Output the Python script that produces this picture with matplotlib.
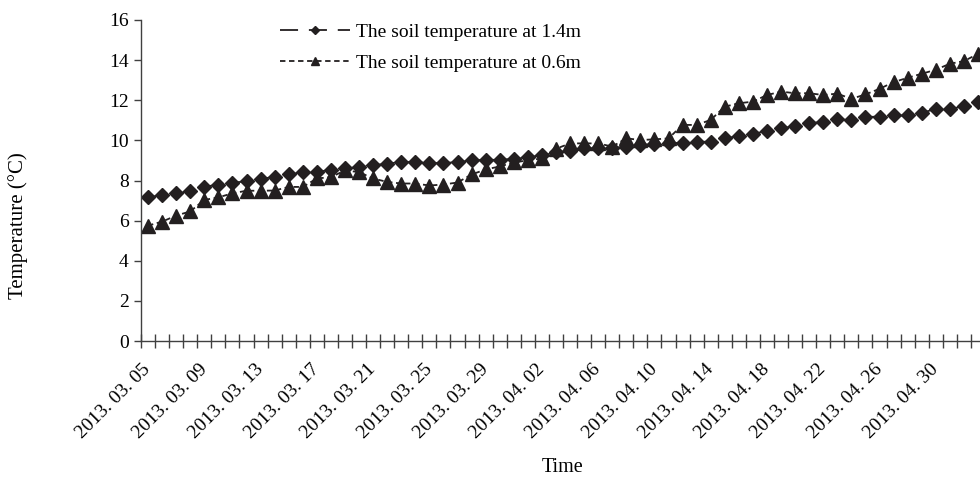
import matplotlib
matplotlib.use('Agg')
import matplotlib.pyplot as plt
from matplotlib.ticker import FixedLocator, NullFormatter
from matplotlib.transforms import ScaledTranslation

plt.rcParams['font.family'] = ['Liberation Serif', 'DejaVu Serif']

dates = [
    '2013. 03. 05', '2013. 03. 06', '2013. 03. 07', '2013. 03. 08', '2013. 03. 09',
    '2013. 03. 10', '2013. 03. 11', '2013. 03. 12', '2013. 03. 13', '2013. 03. 14',
    '2013. 03. 15', '2013. 03. 16', '2013. 03. 17', '2013. 03. 18', '2013. 03. 19',
    '2013. 03. 20', '2013. 03. 21', '2013. 03. 22', '2013. 03. 23', '2013. 03. 24',
    '2013. 03. 25', '2013. 03. 26', '2013. 03. 27', '2013. 03. 28', '2013. 03. 29',
    '2013. 03. 30', '2013. 03. 31', '2013. 04. 01', '2013. 04. 02', '2013. 04. 03',
    '2013. 04. 04', '2013. 04. 05', '2013. 04. 06', '2013. 04. 07', '2013. 04. 08',
    '2013. 04. 09', '2013. 04. 10', '2013. 04. 11', '2013. 04. 12', '2013. 04. 13',
    '2013. 04. 14', '2013. 04. 15', '2013. 04. 16', '2013. 04. 17', '2013. 04. 18',
    '2013. 04. 19', '2013. 04. 20', '2013. 04. 21', '2013. 04. 22', '2013. 04. 23',
    '2013. 04. 24', '2013. 04. 25', '2013. 04. 26', '2013. 04. 27', '2013. 04. 28',
    '2013. 04. 29', '2013. 04. 30', '2013. 05. 01', '2013. 05. 02', '2013. 05. 03',
]

temp_1_4m = [
    7.16, 7.28, 7.36, 7.46, 7.69, 7.79, 7.89, 7.96, 8.07, 8.19,
    8.30, 8.42, 8.42, 8.54, 8.60, 8.67, 8.76, 8.84, 8.92, 8.92,
    8.87, 8.87, 8.92, 9.00, 9.03, 9.03, 9.08, 9.17, 9.25, 9.42,
    9.49, 9.60, 9.60, 9.62, 9.69, 9.77, 9.82, 9.85, 9.88, 9.92,
    9.94, 10.10, 10.22, 10.32, 10.48, 10.60, 10.72, 10.85, 10.93, 11.06,
    11.00, 11.16, 11.19, 11.24, 11.24, 11.36, 11.58, 11.58, 11.69, 11.90,
]

temp_0_6m = [
    5.75, 5.95, 6.25, 6.46, 7.03, 7.16, 7.36, 7.49, 7.49, 7.50,
    7.68, 7.68, 8.10, 8.17, 8.50, 8.42, 8.10, 7.93, 7.85, 7.85,
    7.75, 7.80, 7.90, 8.30, 8.55, 8.70, 8.90, 9.00, 9.10, 9.58,
    9.85, 9.85, 9.85, 9.69, 10.10, 10.02, 10.05, 10.10, 10.77, 10.77,
    11.02, 11.68, 11.85, 11.93, 12.26, 12.43, 12.35, 12.35, 12.26, 12.33,
    12.07, 12.29, 12.57, 12.90, 13.12, 13.32, 13.52, 13.82, 13.95, 14.31,
]

yticks = [0, 2, 4, 6, 8, 10, 12, 14, 16]
label_step = 4

ink = '#231f20'
axis_col = '#404040'

fig = plt.figure(figsize=(9.8, 4.78), dpi=100)
ax = fig.add_axes([141 / 980, 137 / 478, (985 - 141) / 980, (341 - 20) / 478])

x = list(range(len(dates)))
ax.plot(x, temp_1_4m, linestyle=(0, (10, 6)), color=ink, lw=1.3,
        marker='D', ms=7.4, mfc=ink, mec=ink, label='The soil temperature at 1.4m')
ax.plot(x, temp_0_6m, linestyle=(0, (3, 2)), color=ink, lw=1.3,
        marker='^', ms=10.6, mfc=ink, mec=ink, label='The soil temperature at 0.6m')

ax.set_xlim(-0.5, len(dates) - 0.5)
ax.set_ylim(0, 16)
ax.set_yticks(yticks)
ax.set_yticklabels([str(v) for v in yticks], fontsize=14)

# category boundaries as tick marks
ax.xaxis.set_major_locator(FixedLocator([i - 0.5 for i in range(len(dates) + 1)]))
ax.xaxis.set_major_formatter(NullFormatter())
ax.tick_params(axis='x', which='major', direction='inout', length=10, width=1, color=axis_col)
ax.tick_params(axis='y', direction='out', length=5, width=1, color=axis_col, pad=4)

# date labels at category centres, rotated 45 degrees
label_tr = ax.get_xaxis_transform() + ScaledTranslation(-6 / 100, -20 / 100, fig.dpi_scale_trans)
for i in x[::label_step]:
    ax.text(i, 0, dates[i], transform=label_tr, rotation=45, ha='right', va='top',
            rotation_mode='anchor', fontsize=14, clip_on=False)

for s in ['top', 'right']:
    ax.spines[s].set_visible(False)
for s in ['left', 'bottom']:
    ax.spines[s].set_color(axis_col)
    ax.spines[s].set_linewidth(1)

ax.set_xlabel('Time', fontsize=14.5, va='center')
ax.set_ylabel('Temperature (°C)', fontsize=15, va='center')
ax.xaxis.set_label_coords(0.5, (341 - 468) / 321)
ax.yaxis.set_label_coords((18 - 141) / 844, 0.36)

leg = fig.legend(loc='upper left', bbox_to_anchor=(280 / 980, 1 - 23 / 478),
                 frameon=False, fontsize=14, handlelength=3.6, handletextpad=0.3,
                 labelspacing=0.7, markerscale=0.58, borderpad=0, borderaxespad=0)

fig.savefig('out.png', dpi=100)
